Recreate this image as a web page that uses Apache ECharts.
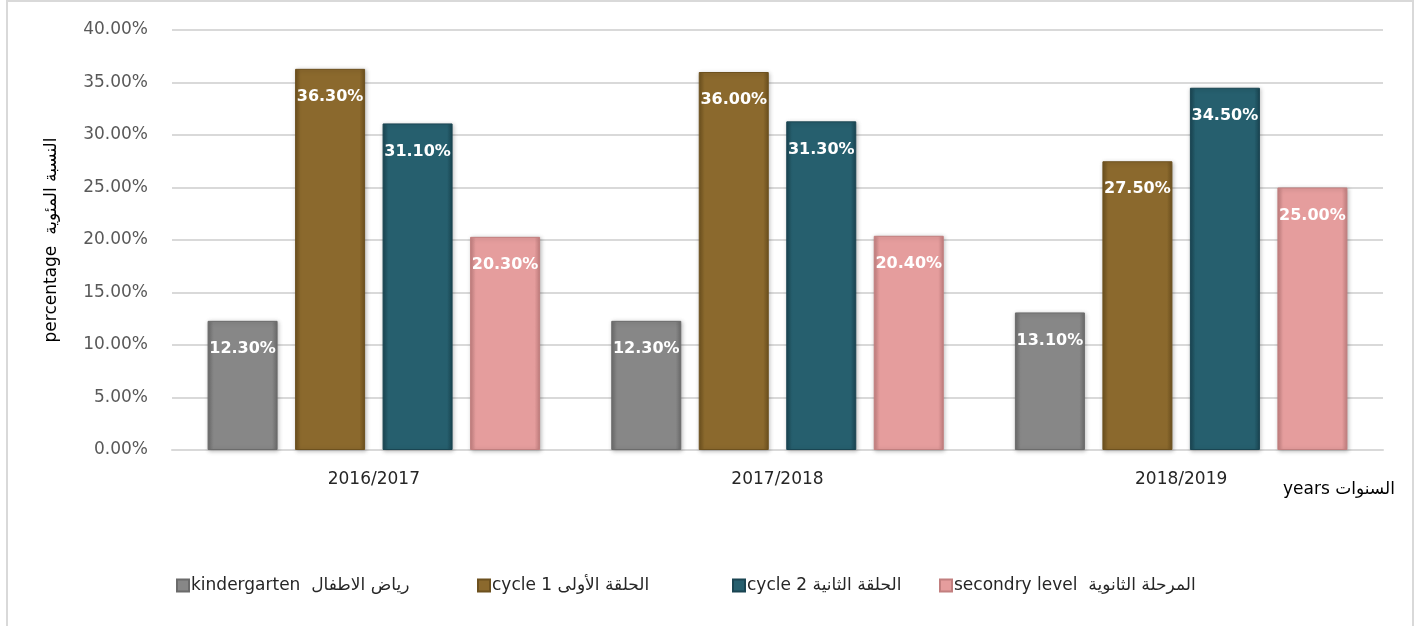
<!DOCTYPE html>
<html>
<head>
<meta charset="utf-8">
<script src="https://cdn.jsdelivr.net/npm/echarts@6/dist/echarts.min.js"></script>
<style>
  html, body { margin: 0; padding: 0; background: #fff; }
  #chart { width: 1424px; height: 626px; }
</style>
</head>
<body>
<div id="chart"></div>
<script>
  // data
  var years = ['2016/2017', '2017/2018', '2018/2019']
  var kindergarten = [12.3, 12.3, 13.1]
  var cycle1 = [36.3, 36.0, 27.5]
  var cycle2 = [31.1, 31.3, 34.5]
  var secondary = [20.3, 20.4, 25.0]
  var seriesNames = [
    'kindergarten  رياض الاطفال',
    'cycle 1 الحلقة الأولى',
    'cycle 2 الحلقة الثانية',
    'secondry level  المرحلة الثانوية'
  ]

  var FONT = 'DejaVu Sans'

  // bevel-ish look: darker edges, flat middle
  function bevel(base, edge) {
    return {
      type: 'linear', x: 0, y: 0, x2: 1, y2: 0,
      colorStops: [
        { offset: 0, color: edge },
        { offset: 0.08, color: base },
        { offset: 0.92, color: base },
        { offset: 1, color: edge }
      ]
    }
  }

  function makeBar(name, data, base, edge) {
    return {
      name: name,
      type: 'bar',
      data: data,
      barWidth: 70,
      barGap: '25%',
      itemStyle: {
        color: bevel(base, edge),
        borderColor: edge,
        borderWidth: 1,
        shadowBlur: 4,
        shadowColor: 'rgba(0,0,0,0.25)',
        shadowOffsetX: 1,
        shadowOffsetY: 1
      },
      label: {
        show: true,
        position: 'insideTop',
        distance: 20,
        color: '#fff',
        fontFamily: FONT,
        fontWeight: 'bold',
        fontSize: 16,
        formatter: function (p) { return p.value.toFixed(2) + '%' }
      }
    }
  }

  // excel spaces the legend entries unevenly, so one legend per entry
  var legendLeft = [176, 477, 732, 939]
  var legends = seriesNames.map(function (n, i) {
    return {
      left: legendLeft[i],
      top: 577,
      padding: 0,
      icon: 'rect',
      itemWidth: 12,
      itemHeight: 12,
      textStyle: { fontSize: 17, color: '#262626', fontFamily: FONT, padding: [0, 0, 0, -3] },
      data: [n]
    }
  })

  var chart = echarts.init(document.getElementById('chart'))
  chart.setOption({
    backgroundColor: '#fff',
    animation: false,
    textStyle: { fontFamily: FONT },
    grid: { left: 172, right: 41, top: 30, bottom: 176 },
    legend: legends,
    xAxis: {
      type: 'category',
      data: years,
      axisLine: { lineStyle: { color: '#d9d9d9', width: 2 } },
      axisTick: { show: false },
      axisLabel: { fontSize: 17, color: '#262626', margin: 21, fontFamily: FONT }
    },
    yAxis: {
      type: 'value',
      min: 0,
      max: 40,
      interval: 5,
      name: 'percentage  النسبة المئوية',
      nameLocation: 'middle',
      nameGap: 112,
      nameTextStyle: { fontSize: 17, color: '#000', fontFamily: FONT },
      axisLine: { show: false },
      axisTick: { show: false },
      axisLabel: {
        fontSize: 17,
        color: '#595959',
        margin: 24,
        fontFamily: FONT,
        formatter: function (v) { return v.toFixed(2) + '%' }
      },
      splitLine: { lineStyle: { color: '#d9d9d9', width: 2 } }
    },
    graphic: [
      {
        type: 'rect',
        shape: { x: 7, y: 1, width: 1406, height: 660 },
        style: { fill: null, stroke: '#d9d9d9', lineWidth: 2 },
        silent: true
      },
      {
        type: 'text',
        left: 1283,
        top: 481,
        style: { text: 'years السنوات', fontSize: 17, fill: '#000', fontFamily: FONT }
      }
    ],
    series: [
      makeBar(seriesNames[0], kindergarten, '#878787', '#6b6b6b'),
      makeBar(seriesNames[1], cycle1, '#8b692d', '#6d511f'),
      makeBar(seriesNames[2], cycle2, '#265f6e', '#1a4552'),
      makeBar(seriesNames[3], secondary, '#e59d9d', '#c27f7f')
    ]
  })
</script>
</body>
</html>
